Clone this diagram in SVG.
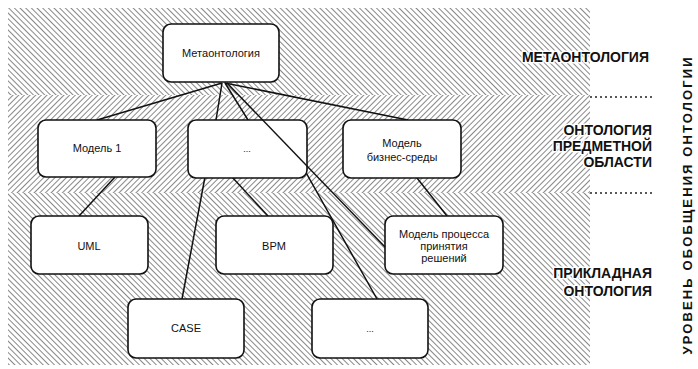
<svg xmlns="http://www.w3.org/2000/svg" width="698" height="369" viewBox="0 0 698 369">
<defs>
<pattern id="hb" patternUnits="userSpaceOnUse" width="4" height="4" patternTransform="rotate(-45)">
<rect width="4" height="4" fill="#fff"/>
<line x1="0" y1="0" x2="0" y2="4" stroke="#555" stroke-width="1.4"/>
</pattern>
<pattern id="hf" patternUnits="userSpaceOnUse" width="4" height="4" patternTransform="rotate(45)">
<rect width="4" height="4" fill="#fff"/>
<line x1="0" y1="0" x2="0" y2="4" stroke="#555" stroke-width="1.4"/>
</pattern>
</defs>
<style>
.box{fill:#fff;stroke:#111;stroke-width:1.6}
.nt{font-family:"Liberation Sans",Arial,sans-serif;font-size:11px;fill:#111;text-anchor:middle}
.lbl{font-family:"Liberation Sans",Arial,sans-serif;font-size:14px;font-weight:bold;fill:#111;text-anchor:end;stroke:#fff;stroke-width:3;paint-order:stroke;stroke-linejoin:round}
.cn{stroke:#111;stroke-width:1.5;fill:none}
.dots{stroke:#222;stroke-width:1.6;stroke-dasharray:2 3}
</style>
<rect width="698" height="369" fill="#fff"/>
<g id="bands">
<rect x="8" y="8" width="582" height="87" fill="url(#hb)"/>
<rect x="8" y="95" width="582" height="98" fill="url(#hf)"/>
<rect x="8" y="193" width="582" height="172" fill="url(#hb)"/>
</g>
<g id="connectors-under">
<line class="cn" x1="222" y1="83" x2="97" y2="120"/>
<line class="cn" x1="222" y1="83" x2="216" y2="120"/>
<line class="cn" x1="225" y1="83" x2="408" y2="120"/>
<polyline class="cn" points="225,83 248,120 300,162 377,299"/>
<line class="cn" x1="115" y1="177" x2="79" y2="216"/>
<line class="cn" x1="205" y1="177" x2="182" y2="299"/>
<line class="cn" x1="232" y1="177" x2="268" y2="216"/>
<line class="cn" x1="417" y1="178" x2="447" y2="216"/>
</g>
<g id="n-meta"><rect class="box" x="163" y="24" width="116" height="58" rx="8"/><text class="nt" x="221" y="57">Метаонтология</text></g>
<g id="n-model1"><rect class="box" x="38" y="120" width="118" height="57" rx="8"/><text class="nt" x="97" y="152">Модель 1</text></g>
<g id="n-dots1"><rect class="box" x="188" y="120" width="119" height="58" rx="8"/><text class="nt" x="247" y="152" style="font-size:9px">...</text></g>
<g id="n-biz"><rect class="box" x="343" y="120" width="118" height="58" rx="8"/><text class="nt" x="402" y="147">Модель</text><text class="nt" x="402" y="161">бизнес-среды</text></g>
<g id="n-uml"><rect class="box" x="31" y="216" width="117" height="58" rx="8"/><text class="nt" x="89" y="250">UML</text></g>
<g id="n-bpm"><rect class="box" x="216" y="216" width="117" height="58" rx="8"/><text class="nt" x="274" y="250">BPM</text></g>
<g id="n-proc"><rect class="box" x="385" y="216" width="118" height="58" rx="8"/><text class="nt" x="444" y="238">Модель процесса</text><text class="nt" x="444" y="250">принятия</text><text class="nt" x="444" y="262">решений</text></g>
<g id="n-case"><rect class="box" x="128" y="299" width="116" height="59" rx="8"/><text class="nt" x="186" y="332">CASE</text></g>
<g id="n-dots2"><rect class="box" x="312" y="299" width="116" height="59" rx="8"/><text class="nt" x="370" y="332" style="font-size:9px">...</text></g>
<g id="connectors-over">
<line class="cn" x1="227" y1="83" x2="385" y2="247"/>
</g>
<g id="labels">
<text class="lbl" x="649" y="62">МЕТАОНТОЛОГИЯ</text>
<line class="dots" x1="590" y1="97" x2="652" y2="97"/>
<text class="lbl" x="652" y="135">ОНТОЛОГИЯ</text>
<text class="lbl" x="652" y="151">ПРЕДМЕТНОЙ</text>
<text class="lbl" x="652" y="167">ОБЛАСТИ</text>
<line class="dots" x1="590" y1="193" x2="652" y2="193"/>
<text class="lbl" x="652" y="278">ПРИКЛАДНАЯ</text>
<text class="lbl" x="652" y="296">ОНТОЛОГИЯ</text>
<text transform="translate(692,206) rotate(-90)" style="font-family:'Liberation Sans',Arial,sans-serif;font-size:13px;font-weight:bold;fill:#111;text-anchor:middle" textLength="297" lengthAdjust="spacing">УРОВЕНЬ ОБОБЩЕНИЯ ОНТОЛОГИИ</text>
</g>
</svg>
